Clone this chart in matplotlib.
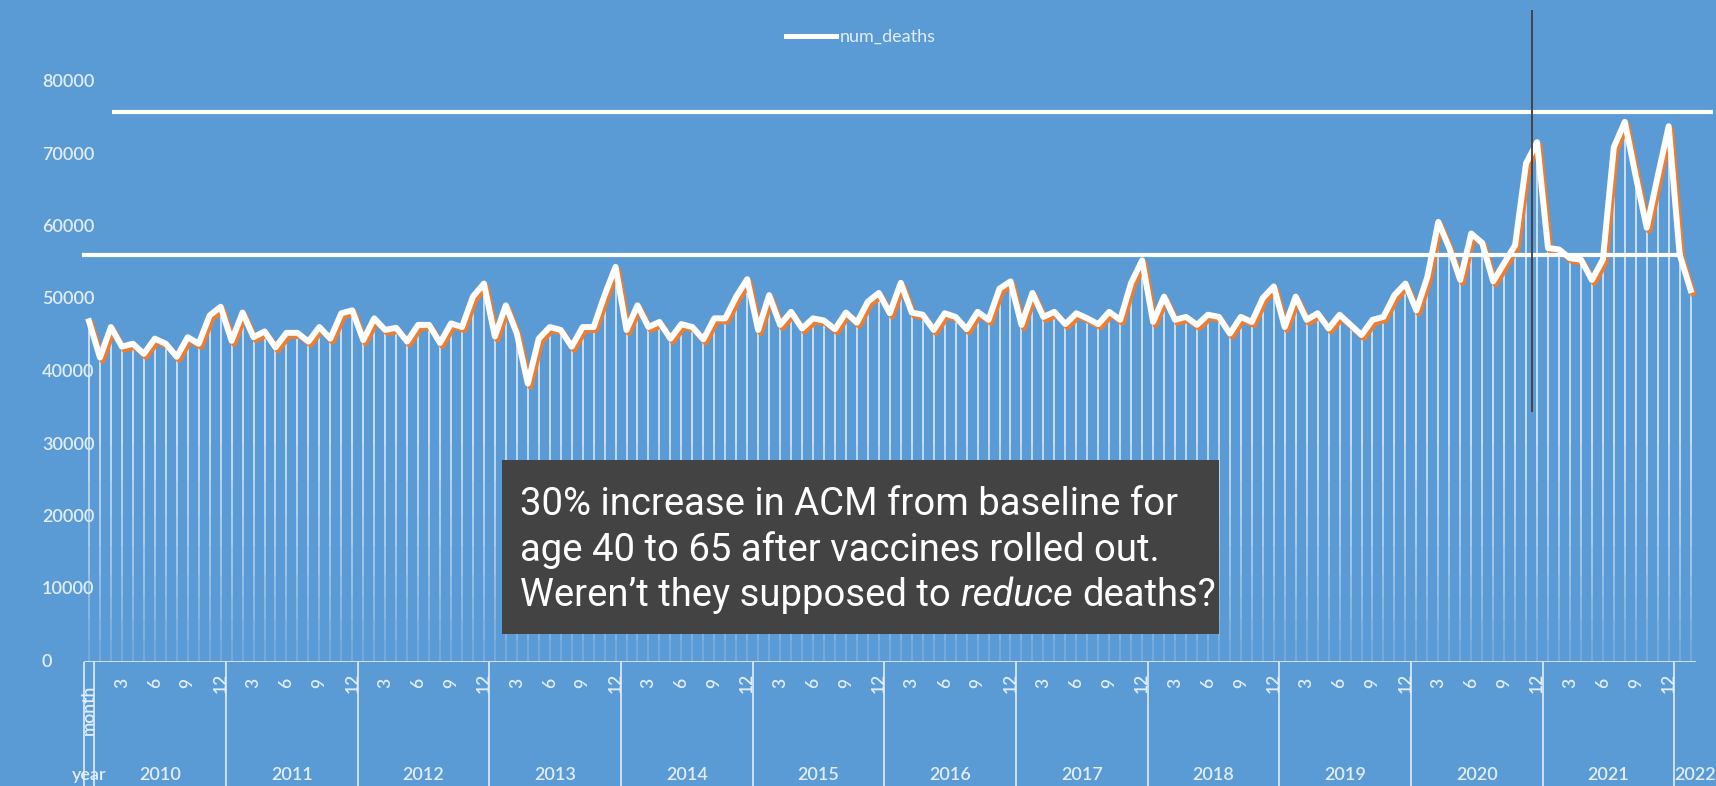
import matplotlib
matplotlib.use('Agg')
import matplotlib.pyplot as plt
import matplotlib.patheffects as pe
from matplotlib.lines import Line2D
from matplotlib.patches import Rectangle
from matplotlib.transforms import blended_transform_factory

# monthly counts, Jan 2010 .. Feb 2022 (first value sits on the header category)
years = list(range(2010, 2023))
months_last_year = 2
month_ticks = [3, 6, 9, 12]
num_deaths = [
    47000,
    42000, 46200, 43500, 43900, 42500, 44600, 43900, 42100, 44800, 43900, 47800, 49000,
    44300, 48200, 44800, 45600, 43400, 45400, 45400, 44200, 46200, 44600, 48100, 48500,
    44400, 47400, 45800, 46100, 44200, 46500, 46500, 44000, 46700, 46200, 50400, 52200,
    44900, 49200, 45300, 38400, 44600, 46200, 45800, 43500, 46200, 46200, 50600, 54500,
    45800, 49200, 46200, 46900, 44600, 46600, 46200, 44500, 47400, 47400, 50400, 52800,
    45800, 50600, 46500, 48300, 46000, 47400, 47100, 45900, 48200, 46800, 49700, 50900,
    48100, 52300, 48200, 47900, 45800, 48100, 47600, 45900, 48300, 47200, 51500, 52500,
    46500, 50900, 47600, 48300, 46600, 48100, 47400, 46600, 48300, 47200, 52300, 55400,
    46900, 50400, 47200, 47600, 46500, 47900, 47600, 45300, 47600, 46900, 50200, 51800,
    46200, 50400, 47200, 48100, 46000, 47900, 46500, 45100, 47200, 47600, 50600, 52200,
    48500, 53100, 60700, 57100, 52700, 59100, 57800, 52500, 55000, 57500, 68800, 71700,
    57100, 56900, 55700, 55500, 52700, 55500, 71000, 74500, 67000, 59900, 67000, 73900,
    56200, 51300,
]
y_ticks = [0, 10000, 20000, 30000, 40000, 50000, 60000, 70000, 80000]
baseline_level = 56200
high_level = 75800
rollout_pos = 131.5
rollout_low = 34500
note_lines = ["30% increase in ACM from baseline for",
              "age 40 to 65 after vaccines rolled out."]
note_last = ["Weren\u2019t they supposed to", "reduce", "deaths?"]

bg = '#5B9BD5'
light = '#E2EDF8'
orange = '#ED7D31'

# category layout: header, then months per year
cat_year = ['year']
cat_month = ['month']
for yr in years:
    n = months_last_year if yr == years[-1] else 12
    for m in range(1, n + 1):
        cat_year.append(yr)
        cat_month.append(m)
x = list(range(len(num_deaths)))

W, H = 1716, 786
fig = plt.figure(figsize=(W / 100, H / 100), dpi=100)
fig.patch.set_facecolor(bg)
ax = fig.add_axes([83.5 / W, 1 - 662 / H, 1612.6 / W, 652.5 / H])
ax.set_facecolor('none')
ax.set_xlim(-0.5, len(x) - 0.5)
ax.set_ylim(0, 90000)
for s in ax.spines.values():
    s.set_visible(False)
ax.set_xticks([])
ax.set_yticks([])

# drop lines, fading towards the bottom
bands = [0, 3000, 6000, 9000, 12000, 16000, 20000, 25000, 30000, 100000]
for k in range(len(bands) - 1):
    lo, hi = bands[k], bands[k + 1]
    a = 0.12 + 0.7 * (k + 1) / (len(bands) - 1)
    tops = [min(v, hi) for v in num_deaths]
    ax.vlines(x, lo, tops, color='white', lw=1.15, alpha=a, zorder=2)

ax.plot(x, num_deaths, color='white', lw=4.3, zorder=4, solid_joinstyle='round',
        path_effects=[pe.SimpleLineShadow(offset=(1.8, -2.2), shadow_color=orange, alpha=1.0),
                      pe.Normal()])

# reference lines
ax.hlines(baseline_level, -0.64, 145.3, color='white', lw=3, zorder=5, clip_on=False)
ax.hlines(high_level, 2.1, 148.0, color='white', lw=3, zorder=5, clip_on=False)
ax.vlines(rollout_pos, rollout_low, 90000, color='#3F3F3F', lw=1.3, zorder=6, clip_on=False)

# x axis line and group separators
ax.hlines(0, -0.5, len(x) - 0.5, color=light, lw=1.2, zorder=3)
sep_trans = blended_transform_factory(ax.transData, ax.transAxes)
seps = [-0.5] + [i - 0.5 for i in range(1, len(x)) if cat_month[i] == 1]
ax.vlines(seps, -124 / 652.5, 0, color=light, lw=1.2, transform=sep_trans, clip_on=False)

# y tick labels (left aligned, Excel style)
ytrans = blended_transform_factory(fig.transFigure, ax.transData)
for v in y_ticks:
    ax.text(42 / W, v, f'{v}', transform=ytrans, ha='left', va='center',
            color=light, fontsize=13, family='Lato', fontweight='semibold')

# month and year labels
xtrans = blended_transform_factory(ax.transData, fig.transFigure)
for i, m in enumerate(cat_month):
    if m in month_ticks:
        ax.text(i, 1 - 683 / H, str(m), transform=xtrans, rotation=90, ha='center',
                va='center', color=light, fontsize=12.5, family='Lato', fontweight='semibold')
ax.text(0, 1 - 710 / H, 'month', transform=xtrans, rotation=90, ha='center',
        va='center', color=light, fontsize=12.5, family='Lato', fontweight='semibold')
ax.text(0, 1 - 775 / H, 'year', transform=xtrans, ha='center', va='center',
        color=light, fontsize=13, family='Lato', fontweight='semibold')
for yr in years:
    idx = [i for i, y in enumerate(cat_year) if y == yr]
    if len(idx) >= 6:
        ax.text((idx[0] + idx[-1]) / 2, 1 - 775 / H, str(yr), transform=xtrans,
                ha='center', va='center', color=light, fontsize=13, family='Lato',
                fontweight='semibold')
    else:
        ax.text(idx[0] - 0.5, 1 - 775 / H, str(yr), transform=xtrans,
                ha='left', va='center', color=light, fontsize=13, family='Lato',
                fontweight='semibold')

# legend
fig.legend(handles=[Line2D([], [], color='white', lw=3.6)], labels=['num_deaths'],
           loc='center', bbox_to_anchor=(0.5017, 1 - 37 / H), frameon=False,
           handlelength=2.75, handletextpad=0.2, borderpad=0,
           prop={'family': 'Lato', 'size': 13}, labelcolor=light)

# annotation box
fig.patches.append(Rectangle((502 / W, 1 - 634 / H), 717 / W, 174 / H,
                             transform=fig.transFigure, facecolor='#434343',
                             edgecolor='none', zorder=10))
tx = 520 / W
fs = 27.5
for line, base in zip(note_lines, [515, 561]):
    fig.text(tx, 1 - base / H, line, ha='left', va='baseline', color='white',
             fontsize=fs, family='Roboto', zorder=11)
renderer = fig.canvas.get_renderer()
probe1 = fig.text(0, 0, 'x x', fontsize=fs, family='Roboto')
probe2 = fig.text(0, 0, 'xx', fontsize=fs, family='Roboto')
gap = (probe1.get_window_extent(renderer).width - probe2.get_window_extent(renderer).width) / W
probe1.remove()
probe2.remove()
cur = tx
for piece, style in zip(note_last, ['normal', 'italic', 'normal']):
    t = fig.text(cur, 1 - 606 / H, piece, ha='left', va='baseline', color='white',
                 fontsize=fs, family='Roboto', style=style, zorder=11)
    cur += t.get_window_extent(renderer).width / W + gap

fig.savefig('out.png', dpi=100, facecolor=bg)
